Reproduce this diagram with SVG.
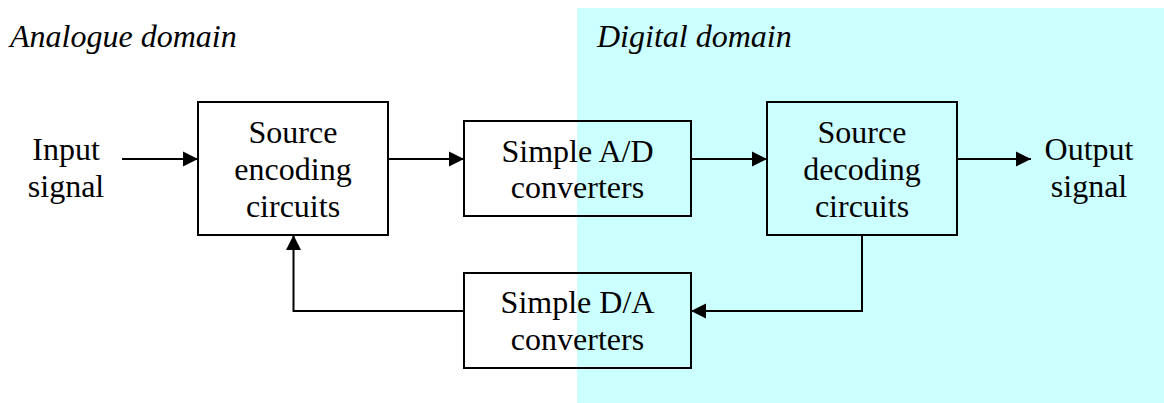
<svg xmlns="http://www.w3.org/2000/svg" width="1164" height="403" viewBox="0 0 1164 403">
  <style>
    .lbl { font-family: "Liberation Serif", "Times New Roman", serif; font-size: 32px; fill: #000; }
    .it { font-style: italic; }
    .mid { text-anchor: middle; }
    .box { fill: none; stroke: #000; stroke-width: 2; }
    .wire { fill: none; stroke: #000; stroke-width: 2; }
  </style>
  <defs>
    <marker id="arrow" markerUnits="userSpaceOnUse" markerWidth="16" markerHeight="16" viewBox="0 0 16 16" refX="15" refY="8" orient="auto">
      <path d="M0,0.5 L15,8 L0,15.5 Z" fill="#000"/>
    </marker>
  </defs>

  <!-- background: white analogue side, cyan digital side -->
  <rect x="0" y="0" width="1164" height="403" fill="#fff"/>
  <rect id="digital-area" x="577" y="8" width="587" height="395" fill="#ccffff"/>

  <text class="lbl it" x="10" y="47">Analogue domain</text>
  <text class="lbl it" x="597" y="47">Digital domain</text>

  <g id="input-label">
    <text class="lbl mid" x="66" y="160">Input</text>
    <text class="lbl mid" x="66" y="197">signal</text>
  </g>

  <g id="source-encoding">
    <rect class="box" x="198" y="102" width="190" height="133" fill="#fff" style="fill:#fff"/>
    <text class="lbl mid" x="293" y="143">Source</text>
    <text class="lbl mid" x="293" y="180">encoding</text>
    <text class="lbl mid" x="293" y="217">circuits</text>
  </g>

  <g id="ad-converters">
    <rect class="box" x="464" y="121" width="227" height="95"/>
    <text class="lbl mid" x="577.5" y="161.5">Simple A/D</text>
    <text class="lbl mid" x="577.5" y="198">converters</text>
  </g>

  <g id="source-decoding">
    <rect class="box" x="767" y="102" width="190" height="133"/>
    <text class="lbl mid" x="862" y="143">Source</text>
    <text class="lbl mid" x="862" y="180">decoding</text>
    <text class="lbl mid" x="862" y="217">circuits</text>
  </g>

  <g id="output-label">
    <text class="lbl mid" x="1089" y="160">Output</text>
    <text class="lbl mid" x="1089" y="197">signal</text>
  </g>

  <g id="da-converters">
    <rect class="box" x="464" y="273" width="227" height="95"/>
    <text class="lbl mid" x="577.5" y="313">Simple D/A</text>
    <text class="lbl mid" x="577.5" y="350">converters</text>
  </g>

  <g id="connectors">
    <line class="wire" x1="122" y1="159" x2="198" y2="159" marker-end="url(#arrow)"/>
    <line class="wire" x1="388" y1="159" x2="464" y2="159" marker-end="url(#arrow)"/>
    <line class="wire" x1="691" y1="159" x2="767" y2="159" marker-end="url(#arrow)"/>
    <line class="wire" x1="957" y1="159" x2="1031" y2="159" marker-end="url(#arrow)"/>
    <polyline class="wire" points="862,235 862,311 691,311" marker-end="url(#arrow)"/>
    <polyline class="wire" points="464,311 293.5,311 293.5,235" marker-end="url(#arrow)"/>
  </g>
</svg>
